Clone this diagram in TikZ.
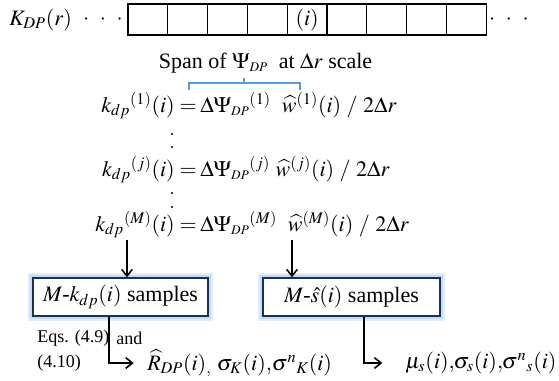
\documentclass[tikz,border=0pt]{standalone}
\usepackage{mathptmx}
\usepackage{fontspec}
\setmainfont{Liberation Serif}
\usetikzlibrary{calc}
\usetikzlibrary{arrows.meta}

\definecolor{bracecol}{RGB}{91,155,213}
\definecolor{boxcol}{RGB}{28,48,86}
\definecolor{glowcol}{RGB}{170,205,238}

\begin{document}
\begin{tikzpicture}[x=0.75pt, y=-0.75pt,
    txt/.style={inner sep=0pt, font=\fontsize{16.5}{19}\selectfont},
    small/.style={inner sep=0pt, font=\fontsize{13.5}{16}\selectfont},
    cell/.style={draw, line width=0.8pt, minimum width=29.85pt, minimum height=23.25pt, inner sep=0pt},
    samplebox/.style={txt, draw=boxcol, line width=1pt, fill=white,
        minimum height=28.5pt,
        preaction={draw=glowcol!35, line width=7pt},
        preaction={draw=glowcol!70, line width=4pt}},
    arr/.style={line width=1.2pt, -{Straight Barb[length=5pt, width=8pt, line width=1.2pt]}}
    ]

    \useasboundingbox (0,0) rectangle (559,380);

    % range gates
    \node[txt, anchor=west] (kdp) at (9,19.5) {$K_{DP}(r)$};
    \node[txt] (ldots) at (103,19.5) {${\cdot}\hspace{8pt}{\cdot}\hspace{8pt}{\cdot}$};
    \foreach \i in {0,...,8} {
        \node[cell] (c\i) at ({147.9+39.8*\i}, 19.5) {};
    }
    \node[txt] at (c4) {$(i)$};
    \node[txt] (rdots) at (509,19.5) {${\cdot}\hspace{8pt}{\cdot}\hspace{8pt}{\cdot}$};

    % span label and brace
    \node[txt] (span) at (265.5,63) {Span of $\Psi_{\scriptscriptstyle DP}$\ \ at $\Delta r$ scale};
    \coordinate (B1) at (189,90);
    \coordinate (B2) at (300,90);
    \draw[bracecol, line width=0.8pt] (B1) -- ++(0,-7) -- ($(B2)+(0,-7)$) -- (B2);
    \draw[bracecol, line width=0.8pt] (244,83) -- (244,78);

    % samples of kdp
    \node[txt, anchor=base east] (k1) at (197,112) {$k_{dp}{}^{(1)}(i) =$};
    \node[txt, anchor=base west] (w1) at (200,112) {$\Delta\Psi_{\scriptscriptstyle DP}{}^{(1)}\ \ \widehat{w}^{(1)}(i)\ /\ 2\Delta r$};
    \node[txt, anchor=base east] (kj) at (197,176) {$k_{dp}{}^{(j)}(i) =$};
    \node[txt, anchor=base west] (wj) at (200,176) {$\Delta\Psi_{\scriptscriptstyle DP}{}^{(j)}\ \widehat{w}^{(j)}(i)\ /\ 2\Delta r$};
    \node[txt, anchor=base east] (kM) at (197,231) {$k_{dp}{}^{(M)}(i) =$};
    \node[txt, anchor=base west] (wM) at (200,231) {$\Delta\Psi_{\scriptscriptstyle DP}{}^{(M)}\ \ \widehat{w}^{(M)}(i)\ /\ 2\Delta r$};

    \foreach \y in {134,147,193,207} {
        \fill (172,\y) circle (1.1);
    }

    % sample boxes
    \node[samplebox, minimum width=131.25pt] (b1) at (120.5,297) {$M$-$k_{dp}(i)$ samples};
    \node[samplebox, minimum width=132.75pt] (b2) at (351.5,297) {$M$-$\hat{s}(i)$ samples};

    \coordinate (a1) at (127,240);
    \coordinate (a2) at (292,240);
    \draw[arr] (a1) -- (a1 |- b1.north);
    \draw[arr] (a2) -- (a2 |- b2.north);

    % outputs
    \node[small, anchor=west] (eq1) at (37,338) {Eqs. (4.9)};
    \node[small, anchor=west] (eq2) at (116,338) {and};
    \node[small, anchor=west] (eq3) at (37,363) {(4.10)};

    \node[txt, anchor=west] (r1) at (147,363) {$\widehat{R}_{DP}(i)_{,}\ \sigma_K(i),\mkern-2mu \sigma^{n}{}_{K}(i)$};
    \node[txt, anchor=west] (r2) at (405,363) {$\mu_s(i),\mkern-3mu \sigma_s(i),\mkern-3mu \sigma^{n}{}_{s}(i)$};

    \draw[arr] ([xshift=-8.5]b1.south) |- ([xshift=-10]r1.west);
    \draw[arr] ([xshift=9.5]b2.south) |- ([xshift=-17]r2.west);

\end{tikzpicture}
\end{document}
